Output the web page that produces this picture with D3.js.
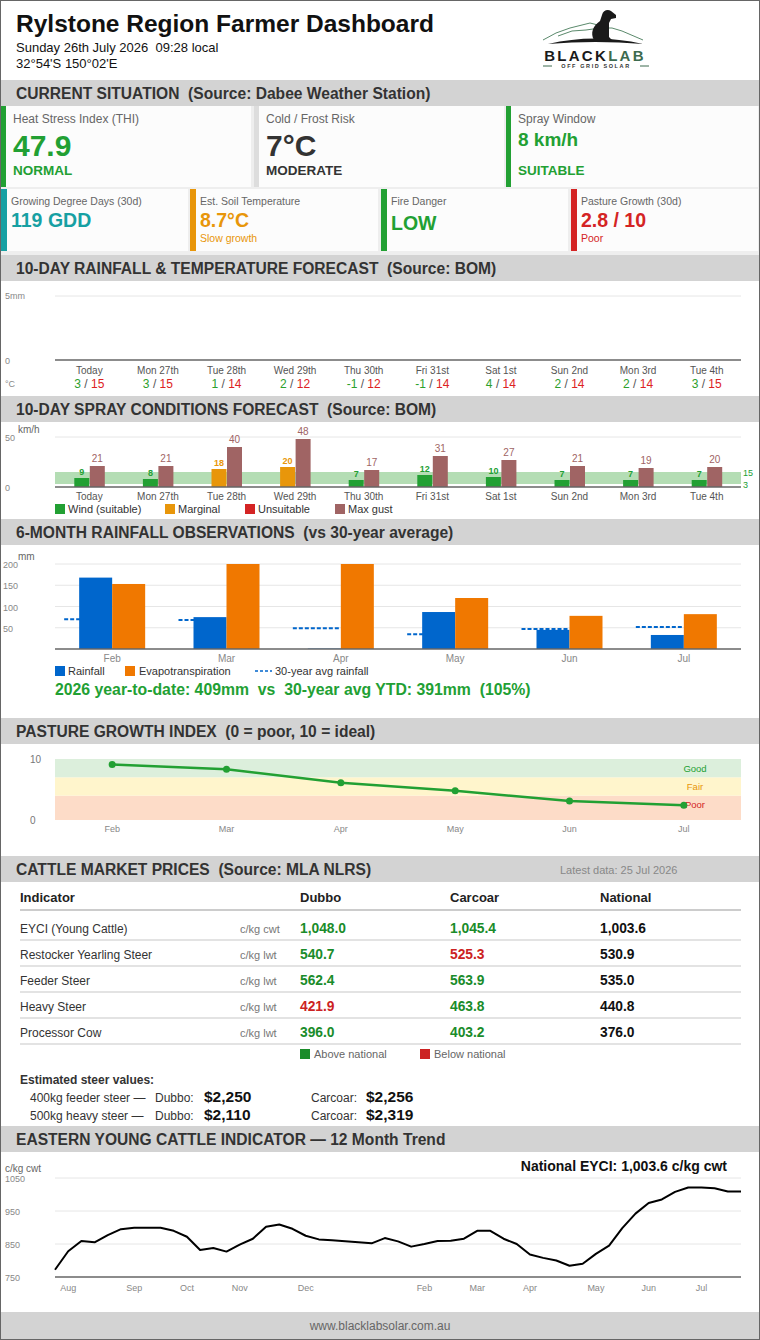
<!DOCTYPE html>
<html>
<head>
<meta charset="utf-8">
<title>Rylstone Region Farmer Dashboard</title>
<script src="https://cdn.jsdelivr.net/npm/d3@7/dist/d3.min.js"></script>
<style>
  html, body { margin: 0; padding: 0; background: #fff; }
  #app svg { display: block; font-family: "Liberation Sans", Arial, sans-serif; }
</style>
</head>
<body>
<div id="app"></div>
<script>
// ---------- data ----------
const forecastDays = ['Today', 'Mon 27th', 'Tue 28th', 'Wed 29th', 'Thu 30th', 'Fri 31st', 'Sat 1st', 'Sun 2nd', 'Mon 3rd', 'Tue 4th'];
const forecastRainMm = [0, 0, 0, 0, 0, 0, 0, 0, 0, 0];
const forecastMinC = [3, 3, 1, 2, -1, -1, 4, 2, 2, 3];
const forecastMaxC = [15, 15, 14, 12, 12, 14, 14, 14, 14, 15];

const sprayWind = [9, 8, 18, 20, 7, 12, 10, 7, 7, 7];
const sprayGust = [21, 21, 40, 48, 17, 31, 27, 21, 19, 20];
const sprayStatus = ['suitable', 'suitable', 'marginal', 'marginal', 'suitable', 'suitable', 'suitable', 'suitable', 'suitable', 'suitable'];
const sprayBand = [3, 15];

const obsMonths = ['Feb', 'Mar', 'Apr', 'May', 'Jun', 'Jul'];
const obsRainfall = [168, 75, 1, 87, 45, 33];
const obsEvapo = [153, 200, 200, 120, 78, 82];
const obsAvgRain = [70, 68, 49, 35, 47, 52];
const obsTicks = [50, 100, 150, 200];

const pastureIndex = [9.1, 8.3, 6.1, 4.8, 3.1, 2.4];
const pastureZoneNames = ['Poor', 'Fair', 'Good'];
const pastureZoneFrom = [0, 4, 7];
const pastureZoneTo = [4, 7, 10];

const cattleIndicators = ['EYCI (Young Cattle)', 'Restocker Yearling Steer', 'Feeder Steer', 'Heavy Steer', 'Processor Cow'];
const cattleUnits = ['c/kg cwt', 'c/kg lwt', 'c/kg lwt', 'c/kg lwt', 'c/kg lwt'];
const priceDubbo = [1048.0, 540.7, 562.4, 421.9, 396.0];
const priceCarcoar = [1045.4, 525.3, 563.9, 463.8, 403.2];
const priceNational = [1003.6, 530.9, 535.0, 440.8, 376.0];

const eyciWeekly = [772, 828, 859, 855, 877, 895, 899, 899, 899, 890, 872, 832, 838, 827, 848, 866, 902, 909, 896, 875,
  864, 861, 858, 855, 852, 868, 858, 842, 850, 859, 860, 866, 890, 890, 866, 850, 818, 808, 800, 784,
  790, 820, 845, 898, 942, 974, 985, 1008, 1021, 1021, 1019, 1009, 1009];
const eyciMonthLabels = ['Aug', 'Sep', 'Oct', 'Nov', 'Dec', 'Feb', 'Mar', 'Apr', 'May', 'Jun', 'Jul'];
const eyciMonthWeek = [1, 6, 10, 14, 19, 28, 32, 36, 41, 45, 49];
const eyciTicks = [750, 850, 950, 1050];

// ---------- colours ----------
const GREEN = '#22a033', ORANGE = '#e8960a', RED = '#d42424', TEAL = '#17a0a3';
const GUST = '#a06464', BLUE = '#0066cc', ET = '#f07800';

const svg = d3.select('#app').append('svg').attr('width', 760).attr('height', 1340);

// helper for text; double spaces kept with a nbsp
function addText(x, y, str, o = {}) {
  return svg.append('text')
    .attr('x', x).attr('y', y)
    .attr('font-size', o.size || 12)
    .attr('font-weight', o.weight || 'normal')
    .attr('fill', o.fill || '#333')
    .attr('text-anchor', o.anchor || 'start')
    .text(String(str).replace(/  /g, ' \u00a0'));
}
function hline(x1, x2, y, col, w) {
  svg.append('line').attr('x1', x1).attr('x2', x2).attr('y1', y).attr('y2', y)
    .attr('stroke', col).attr('stroke-width', w || 1);
}

// ---------- header ----------
addText(16, 32, 'Rylstone Region Farmer Dashboard', { size: 24.5, weight: 'bold', fill: '#111' });
addText(16, 52, 'Sunday 26th July 2026  09:28 local', { size: 13, fill: '#111' });
addText(16, 68, '32°54\'S 150°02\'E', { size: 13, fill: '#111' });

// logo
const logo = svg.append('g');
logo.append('polyline').attr('points', '543,40 556,33 570,28 582,25 590,23 598,25')
  .attr('fill', 'none').attr('stroke', '#5b8a6c').attr('stroke-width', 1);
logo.append('polyline').attr('points', '558,36 572,31 586,30 600,28 612,28 622,31 643,40')
  .attr('fill', 'none').attr('stroke', '#5b8a6c').attr('stroke-width', 1);
logo.append('path').attr('d', 'M548,44 Q595,33 643,44 Q595,40 548,44 Z').attr('fill', '#1a1a1a');
logo.append('path')
  .attr('d', 'M594,40 C590,33 593,26 600,21 L602,15 C603,10 608,9 611,11 L616,15 L616,18 L611,19 L609,23 L609,37 L612,40 Z')
  .attr('fill', '#1a1a1a');
logo.append('text').attr('x', 595).attr('y', 61).attr('text-anchor', 'middle')
  .attr('font-size', 15).attr('font-weight', 'bold').attr('letter-spacing', 2.3)
  .call(t => {
    t.append('tspan').attr('fill', '#1a1a1a').text('BLACK');
    t.append('tspan').attr('fill', '#3d6b4f').text('LAB');
  });
logo.append('text').attr('x', 596).attr('y', 68).attr('text-anchor', 'middle')
  .attr('font-size', 5.5).attr('font-weight', 'bold').attr('letter-spacing', 1.6).attr('fill', '#333')
  .text('OFF GRID SOLAR');
logo.append('line').attr('x1', 543).attr('x2', 552).attr('y1', 66).attr('y2', 66).attr('stroke', '#3d6b4f');
logo.append('line').attr('x1', 640).attr('x2', 649).attr('y1', 66).attr('y2', 66).attr('stroke', '#3d6b4f');

// ---------- section bars ----------
const sectionY = [80, 255, 396, 519, 718, 856, 1126];
const sectionTitle = [
  'CURRENT SITUATION  (Source: Dabee Weather Station)',
  '10-DAY RAINFALL & TEMPERATURE FORECAST  (Source: BOM)',
  '10-DAY SPRAY CONDITIONS FORECAST  (Source: BOM)',
  '6-MONTH RAINFALL OBSERVATIONS  (vs 30-year average)',
  'PASTURE GROWTH INDEX  (0 = poor, 10 = ideal)',
  'CATTLE MARKET PRICES  (Source: MLA NLRS)',
  'EASTERN YOUNG CATTLE INDICATOR \u2014 12 Month Trend'
];
sectionY.forEach((y, i) => {
  svg.append('rect').attr('x', 1).attr('y', y).attr('width', 758).attr('height', 26).attr('fill', '#d3d3d3');
  addText(16, y + 19, sectionTitle[i], { size: 15.6, weight: 'bold', fill: '#333' });
});
addText(560, 874, 'Latest data: 25 Jul 2026', { size: 11, fill: '#888' });

// ---------- current situation cards ----------
svg.append('rect').attr('x', 1).attr('y', 106).attr('width', 758).attr('height', 149).attr('fill', '#eeeeee');
const cardsTop = [
  { x: 1, w: 250, bar: GREEN, label: 'Heat Stress Index (THI)', value: '47.9', vs: 30, vy: 156, vc: GREEN, sub: 'NORMAL', sc: GREEN },
  { x: 254, w: 250, bar: '#dddddd', label: 'Cold / Frost Risk', value: '7°C', vs: 30, vy: 156, vc: '#333', sub: 'MODERATE', sc: '#333' },
  { x: 506, w: 252, bar: GREEN, label: 'Spray Window', value: '8 km/h', vs: 19, vy: 146, vc: GREEN, sub: 'SUITABLE', sc: GREEN }
];
cardsTop.forEach(c => {
  svg.append('rect').attr('x', c.x).attr('y', 106).attr('width', c.w).attr('height', 81).attr('fill', '#fcfcfc');
  svg.append('rect').attr('x', c.x).attr('y', 106).attr('width', 5).attr('height', 81).attr('fill', c.bar);
  addText(c.x + 12, 123, c.label, { size: 12, fill: '#666' });
  addText(c.x + 12, c.vy, c.value, { size: c.vs, weight: 'bold', fill: c.vc });
  addText(c.x + 12, 175, c.sub, { size: 13.5, weight: 'bold', fill: c.sc });
});
const cardsBottom = [
  { x: 1, w: 187, bar: TEAL, label: 'Growing Degree Days (30d)', value: '119 GDD', vc: TEAL, sub: '', sc: TEAL },
  { x: 190, w: 188, bar: ORANGE, label: 'Est. Soil Temperature', value: '8.7°C', vc: ORANGE, sub: 'Slow growth', sc: ORANGE },
  { x: 381, w: 187, bar: GREEN, label: 'Fire Danger', value: 'LOW', vc: GREEN, sub: '', sc: GREEN, vy: 230 },
  { x: 571, w: 187, bar: RED, label: 'Pasture Growth (30d)', value: '2.8 / 10', vc: RED, sub: 'Poor', sc: RED }
];
cardsBottom.forEach(c => {
  svg.append('rect').attr('x', c.x).attr('y', 189).attr('width', c.w).attr('height', 62).attr('fill', '#fcfcfc');
  svg.append('rect').attr('x', c.x).attr('y', 189).attr('width', 6).attr('height', 62).attr('fill', c.bar);
  addText(c.x + 10, 205, c.label, { size: 10.5, fill: '#666' });
  addText(c.x + 10, c.vy || 227, c.value, { size: 19.5, weight: 'bold', fill: c.vc });
  if (c.sub) addText(c.x + 10, 242, c.sub, { size: 10.5, fill: c.sc });
});

// ---------- 10-day rainfall & temperature ----------
const xDay = d3.scaleBand().domain(forecastDays).range([55, 741]);
const yRain = d3.scaleLinear().domain([0, 5]).range([360, 296]);
hline(55, 741, yRain(5), '#e6e6e6');
addText(5, yRain(5) + 3, '5mm', { size: 9, fill: '#888' });
addText(5, yRain(0) + 4, '0', { size: 9, fill: '#888' });
svg.append('g').selectAll('rect').data(forecastRainMm).join('rect')
  .attr('x', (d, i) => xDay(forecastDays[i]) + xDay.bandwidth() * 0.25)
  .attr('width', xDay.bandwidth() * 0.5)
  .attr('y', d => yRain(d)).attr('height', d => yRain(0) - yRain(d))
  .attr('fill', BLUE);
hline(55, 741, yRain(0), '#666', 1.5);
addText(5, 387, '°C', { size: 9, fill: '#888' });
forecastDays.forEach((d, i) => {
  const cx = xDay(d) + xDay.bandwidth() / 2;
  addText(cx, 374, d, { size: 10, fill: '#555', anchor: 'middle' });
  const t = svg.append('text').attr('x', cx).attr('y', 388).attr('font-size', 12).attr('text-anchor', 'middle');
  t.append('tspan').attr('fill', '#2ca02c').text(forecastMinC[i]);
  t.append('tspan').attr('fill', '#555').text(' / ');
  t.append('tspan').attr('fill', '#dd2222').text(forecastMaxC[i]);
});

// ---------- spray conditions ----------
const ySpray = d3.scaleLinear().domain([0, 50]).range([487, 437]);
const sprayColour = { suitable: GREEN, marginal: ORANGE, unsuitable: RED };
addText(18, 433, 'km/h', { size: 10, fill: '#666' });
hline(55, 741, ySpray(50), '#e6e6e6');
addText(5, ySpray(50) + 4, '50', { size: 9, fill: '#888' });
addText(5, ySpray(0) + 4, '0', { size: 9, fill: '#888' });
svg.append('rect').attr('x', 55).attr('width', 686)
  .attr('y', ySpray(sprayBand[1])).attr('height', ySpray(sprayBand[0]) - ySpray(sprayBand[1]))
  .attr('fill', '#b4ddb4');
addText(743, ySpray(sprayBand[1]) + 4, sprayBand[1], { size: 9, fill: GREEN });
addText(743, ySpray(sprayBand[0]) + 4, sprayBand[0], { size: 9, fill: GREEN });
const sprayG = svg.append('g');
sprayG.selectAll('rect.wind').data(sprayWind).join('rect').attr('class', 'wind')
  .attr('x', (d, i) => xDay(forecastDays[i]) + xDay.bandwidth() / 2 - 15)
  .attr('width', 15)
  .attr('y', d => ySpray(d)).attr('height', d => ySpray(0) - ySpray(d))
  .attr('fill', (d, i) => sprayColour[sprayStatus[i]]);
sprayG.selectAll('rect.gust').data(sprayGust).join('rect').attr('class', 'gust')
  .attr('x', (d, i) => xDay(forecastDays[i]) + xDay.bandwidth() / 2 + 0.5)
  .attr('width', 15)
  .attr('y', d => ySpray(d)).attr('height', d => ySpray(0) - ySpray(d))
  .attr('fill', GUST);
sprayWind.forEach((v, i) => {
  const cx = xDay(forecastDays[i]) + xDay.bandwidth() / 2;
  addText(cx - 7.5, ySpray(v) - 3, v, { size: 9, weight: 'bold', fill: sprayColour[sprayStatus[i]], anchor: 'middle' });
  addText(cx + 8, ySpray(sprayGust[i]) - 4, sprayGust[i], { size: 10, fill: GUST, anchor: 'middle' });
  addText(cx, 500, forecastDays[i], { size: 10, fill: '#555', anchor: 'middle' });
});
hline(55, 741, ySpray(0), '#666', 1.5);
[['Wind (suitable)', GREEN, 55], ['Marginal', ORANGE, 165], ['Unsuitable', RED, 245], ['Max gust', GUST, 335]].forEach(([n, c, x]) => {
  svg.append('rect').attr('x', x).attr('y', 504).attr('width', 10).attr('height', 10).attr('fill', c);
  addText(x + 13, 513, n, { size: 11, fill: '#333' });
});

// ---------- 6-month rainfall ----------
const xMonth = d3.scaleBand().domain(obsMonths).range([55, 741]);
const yObs = d3.scaleLinear().domain([0, 200]).range([649, 564]);
addText(18, 560, 'mm', { size: 10, fill: '#666' });
obsTicks.forEach(t => {
  hline(55, 741, yObs(t), '#e6e6e6');
  addText(3, yObs(t) + 4, t, { size: 9, fill: '#888' });
});
const obsG = svg.append('g');
obsG.selectAll('line.avg').data(obsAvgRain).join('line').attr('class', 'avg')
  .attr('x1', (d, i) => xMonth(obsMonths[i]) + xMonth.bandwidth() / 2 - 48)
  .attr('x2', (d, i) => xMonth(obsMonths[i]) + xMonth.bandwidth() / 2)
  .attr('y1', d => yObs(d)).attr('y2', d => yObs(d))
  .attr('stroke', BLUE).attr('stroke-width', 2).attr('stroke-dasharray', '4,2');
obsG.selectAll('rect.rain').data(obsRainfall).join('rect').attr('class', 'rain')
  .attr('x', (d, i) => xMonth(obsMonths[i]) + xMonth.bandwidth() / 2 - 33)
  .attr('width', 33)
  .attr('y', d => yObs(d)).attr('height', d => yObs(0) - yObs(d))
  .attr('fill', BLUE);
obsG.selectAll('rect.et').data(obsEvapo).join('rect').attr('class', 'et')
  .attr('x', (d, i) => xMonth(obsMonths[i]) + xMonth.bandwidth() / 2)
  .attr('width', 33)
  .attr('y', d => yObs(d)).attr('height', d => yObs(0) - yObs(d))
  .attr('fill', ET);
hline(55, 741, yObs(0), '#666', 1.5);
obsMonths.forEach(m => addText(xMonth(m) + xMonth.bandwidth() / 2, 662, m, { size: 10, fill: '#888', anchor: 'middle' }));
svg.append('rect').attr('x', 55).attr('y', 666).attr('width', 10).attr('height', 10).attr('fill', BLUE);
addText(68, 675, 'Rainfall', { size: 11 });
svg.append('rect').attr('x', 125).attr('y', 666).attr('width', 10).attr('height', 10).attr('fill', ET);
addText(139, 675, 'Evapotranspiration', { size: 11 });
svg.append('line').attr('x1', 255).attr('x2', 272).attr('y1', 671).attr('y2', 671)
  .attr('stroke', BLUE).attr('stroke-width', 1.5).attr('stroke-dasharray', '3,2');
addText(275, 675, '30-year avg rainfall', { size: 11 });
addText(55, 695, '2026 year-to-date: 409mm  vs  30-year avg YTD: 391mm  (105%)', { size: 15.8, weight: 'bold', fill: GREEN });

// ---------- pasture growth ----------
const xPast = d3.scalePoint().domain(obsMonths).range([55, 741]).padding(0.5);
const yPast = d3.scaleLinear().domain([0, 10]).range([820, 759]);
const zoneFill = ['#fddcc8', '#fff5cc', '#dcefdc'];
const zoneText = [RED, ORANGE, GREEN];
pastureZoneNames.forEach((z, i) => {
  svg.append('rect').attr('x', 55).attr('width', 686)
    .attr('y', yPast(pastureZoneTo[i])).attr('height', yPast(pastureZoneFrom[i]) - yPast(pastureZoneTo[i]))
    .attr('fill', zoneFill[i]);
  addText(695, (yPast(pastureZoneTo[i]) + yPast(pastureZoneFrom[i] > 0 ? pastureZoneFrom[i] : 1)) / 2 + 3.5, z,
    { size: 9.5, fill: zoneText[i], anchor: 'middle' });
});
addText(30, yPast(10) + 4, '10', { size: 10, fill: '#777' });
addText(30, yPast(0) + 4, '0', { size: 10, fill: '#777' });
svg.append('path').datum(pastureIndex)
  .attr('d', d3.line().x((d, i) => xPast(obsMonths[i])).y(d => yPast(d)))
  .attr('fill', 'none').attr('stroke', GREEN).attr('stroke-width', 2.5);
svg.append('g').selectAll('circle').data(pastureIndex).join('circle')
  .attr('cx', (d, i) => xPast(obsMonths[i])).attr('cy', d => yPast(d)).attr('r', 3.5).attr('fill', GREEN);
obsMonths.forEach(m => addText(xPast(m), 832, m, { size: 9, fill: '#888', anchor: 'middle' }));

// ---------- cattle table ----------
const colX = [20, 300, 450, 600];
['Indicator', 'Dubbo', 'Carcoar', 'National'].forEach((h, i) => addText(colX[i], 902, h, { size: 13, weight: 'bold', fill: '#222' }));
hline(20, 741, 910, '#cccccc', 2);
const fmt = d3.format(',.1f');
cattleIndicators.forEach((name, i) => {
  const y = 928 + i * 26;
  addText(20, y + 4.5, name, { size: 12, fill: '#333' });
  addText(240, y + 4.5, cattleUnits[i], { size: 11, fill: '#777' });
  const nat = priceNational[i];
  addText(300, y + 5, fmt(priceDubbo[i]), { size: 13.8, weight: 'bold', fill: priceDubbo[i] >= nat ? '#1a8c2a' : '#cc2222' });
  addText(450, y + 5, fmt(priceCarcoar[i]), { size: 13.8, weight: 'bold', fill: priceCarcoar[i] >= nat ? '#1a8c2a' : '#cc2222' });
  addText(600, y + 5, fmt(nat), { size: 13.8, weight: 'bold', fill: '#111' });
  hline(20, 741, y + 12, '#e3e3e3', 2);
});
svg.append('rect').attr('x', 300).attr('y', 1049).attr('width', 10).attr('height', 10).attr('fill', '#1a8c2a');
addText(314, 1058, 'Above national', { size: 11, fill: '#666' });
svg.append('rect').attr('x', 420).attr('y', 1049).attr('width', 10).attr('height', 10).attr('fill', '#cc2222');
addText(434, 1058, 'Below national', { size: 11, fill: '#666' });

addText(20, 1084, 'Estimated steer values:', { size: 12, weight: 'bold', fill: '#333' });
[['400kg feeder steer \u2014', '$2,250', '$2,256', 1102], ['500kg heavy steer \u2014', '$2,110', '$2,319', 1120]].forEach(([lab, d, c, y]) => {
  addText(30, y, lab, { size: 12, fill: '#333' });
  addText(155, y, 'Dubbo:', { size: 12, fill: '#333' });
  addText(204, y, d, { size: 15.5, weight: 'bold', fill: '#111' });
  addText(311, y, 'Carcoar:', { size: 12, fill: '#333' });
  addText(366, y, c, { size: 15.5, weight: 'bold', fill: '#111' });
});

// ---------- EYCI trend ----------
const xWeek = d3.scaleLinear().domain([0, eyciWeekly.length - 1]).range([55, 741]);
const yEyci = d3.scaleLinear().domain([750, 1050]).range([1277, 1178]);
addText(5, 1172, 'c/kg cwt', { size: 10, fill: '#666' });
addText(727, 1171, 'National EYCI: 1,003.6 c/kg cwt', { size: 14, weight: 'bold', fill: '#111', anchor: 'end' });
eyciTicks.forEach(t => {
  if (t > 750) hline(55, 741, yEyci(t), '#e6e6e6');
  addText(5, yEyci(t) + 4, t, { size: 9, fill: '#888' });
});
hline(55, 741, yEyci(750), '#666', 1.5);
svg.append('path').datum(eyciWeekly)
  .attr('d', d3.line().x((d, i) => xWeek(i)).y(d => yEyci(d)))
  .attr('fill', 'none').attr('stroke', '#000').attr('stroke-width', 2).attr('stroke-linejoin', 'round');
eyciMonthLabels.forEach((m, i) => addText(xWeek(eyciMonthWeek[i]), 1291, m, { size: 9, fill: '#888', anchor: 'middle' }));

// ---------- footer & frame ----------
svg.append('rect').attr('x', 1).attr('y', 1312).attr('width', 758).attr('height', 27).attr('fill', '#d3d3d3');
addText(380, 1330, 'www.blacklabsolar.com.au', { size: 12, fill: '#666', anchor: 'middle' });
svg.append('rect').attr('x', 0.5).attr('y', 0.5).attr('width', 759).attr('height', 1339)
  .attr('fill', 'none').attr('stroke', '#666');
</script>
</body>
</html>
